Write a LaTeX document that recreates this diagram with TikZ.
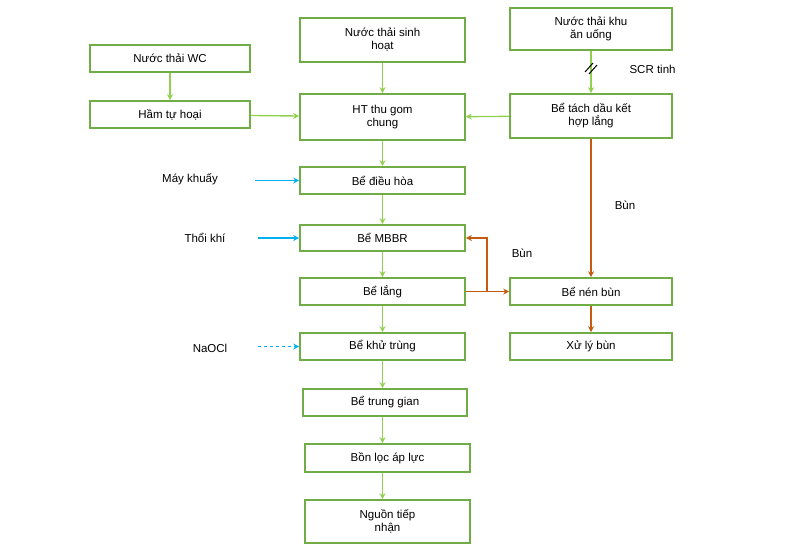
\documentclass[tikz,border=0pt]{standalone}
\usepackage{fontspec}
\setmainfont{Liberation Sans}
\usetikzlibrary{arrows.meta}
\definecolor{bx}{RGB}{112,173,71}
\definecolor{ga}{RGB}{146,208,80}
\definecolor{br}{RGB}{197,90,17}
\definecolor{bl}{RGB}{0,176,240}
\begin{document}
\begin{tikzpicture}[x=1pt,y=-1pt,
 box/.style={draw=bx,line width=1.6pt,align=center,font=\fontsize{11.5}{13}\selectfont,inner sep=0pt},
 lab/.style={font=\fontsize{11.5}{13}\selectfont},
 ga/.style={draw=ga,line width=1.4pt,-{Stealth[length=6pt,width=6pt]}},
 br/.style={draw=br,line width=1.4pt,-{Stealth[length=6pt,width=6pt]}},
 bl/.style={draw=bl,line width=1.2pt,-{Stealth[length=6pt,width=6pt]}}]
\useasboundingbox (0,0) rectangle (800,550);
\newcommand{\bx}[6]{\node[box,minimum width=#4-#2,minimum height=#5-#3] (#1) at ({(#2+#4)/2},{(#3+#5)/2}) {#6};}
\bx{wc}{90}{45}{250}{72}{Nước thải WC}
\bx{ham}{90}{101}{250}{128}{Hầm tự hoại}
\bx{sh}{300}{18}{465}{62}{Nước thải sinh\\hoạt}
\bx{ht}{300}{94}{465}{140}{HT thu gom\\chung}
\bx{au}{510}{8}{672}{50}{Nước thải khu\\ăn uống}
\bx{td}{510}{94}{672}{138}{Bể tách dầu kết\\hợp lắng}
\bx{dh}{300}{167}{465}{194}{Bể điều hòa}
\bx{mb}{300}{225}{465}{251}{Bể MBBR}
\bx{la}{300}{278}{465}{305}{Bể lắng}
\bx{nb}{510}{278}{672}{305}{Bể nén bùn}
\bx{xl}{510}{333}{672}{360}{Xử lý bùn}
\bx{kt}{300}{333}{465}{360}{Bể khử trùng}
\bx{tg}{303}{389}{467}{416}{Bể trung gian}
\bx{lo}{305}{444}{470}{472}{Bồn lọc áp lực}
\bx{ng}{305}{500}{470}{543}{Nguồn tiếp\\nhận}
\draw[ga] (wc) -- (ham);
\draw[ga] (ham) -- (ht);
\draw[ga] (td) -- (ht);
\draw[ga] (sh.south -| ht.north) -- (ht);
\draw[ga] (au.south) -- (td.north);
\draw[ga] (ht) -- (dh);
\draw[ga] (dh) -- (mb);
\draw[ga] (mb) -- (la);
\draw[ga] (la) -- (kt);
\draw[ga] (kt) -- (kt |- tg.north);
\draw[ga] (tg.south -| kt) -- (kt |- lo.north);
\draw[ga] (lo.south -| kt) -- (kt |- ng.north);
\draw[line width=1pt] (585,72) -- (593,63) (589,74) -- (597,65);
\node[lab,anchor=west] (scr) at (626,69) {SCR tinh};
\draw[br] (td.south) -- (td.south |- nb.north);
\node[lab] (b1) at (625,205) {Bùn};
\draw[br] (la.east) -- (nb.west);
\coordinate (j) at (487,291.5);
\draw[br] (j) -- (487,238) -- (mb.east);
\node[lab] (b2) at (522,253) {Bùn};
\draw[br] (nb) -- (xl);
\node[lab] (mk) at (190,179) {Máy khuấy};
\draw[bl] (255,180.5) -- (dh.west);
\node[lab] (tk) at (205,238) {Thổi khí};
\draw[bl] (258,238) -- (mb.west);
\node[lab] (na) at (210,348) {NaOCl};
\draw[bl,dashed] (258,346.5) -- (kt.west);
\end{tikzpicture}
\end{document}
